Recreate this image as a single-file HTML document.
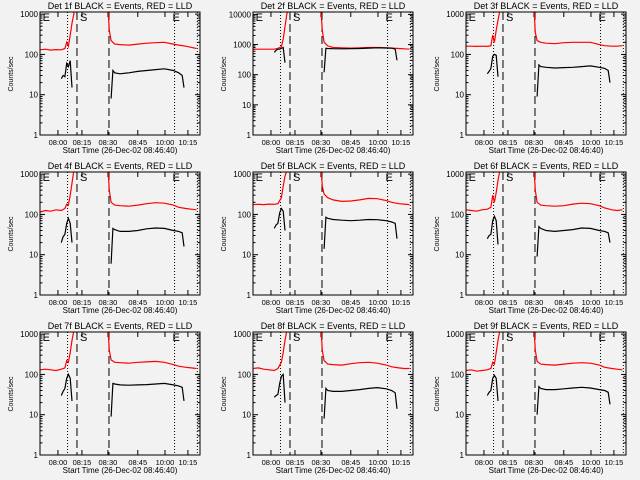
<!DOCTYPE html>
<html><head><meta charset="utf-8"><style>
html,body{margin:0;padding:0;background:#f2f2f2;}
svg{display:block;font-family:"Liberation Sans",sans-serif;}
</style></head><body>
<svg id="chart" width="640" height="480" viewBox="0 0 640 480" xmlns="http://www.w3.org/2000/svg">
<rect x="0" y="0" width="640" height="480" fill="#f2f2f2"/>
</svg>
<script>
const panelNames = ["1f","2f","3f","4f","5f","6f","7f","8f","9f"];
const yMaxes = [1130,12000,1130,1130,1130,1130,1130,1130,1130];
const xTickMinutes = [10.1,23.6,38.2,55,70.3,83.2];
const xTickLabels = ["08:00","08:15","08:30","08:45","10:00","10:15"];
const redTimes = [0,3,6,9,12,14,15,16,17,18,19,20,38,39,40,42,45,50,55,60,65,70,75,78,82,85,88];
const blackTimes = [12,13,14,15,16,17,18,40,41,42,45,50,55,60,65,70,75,78,80,81];
const redValues = [
 [130,135,128,132,130,140,200,160,300,600,1000,2000,2000,400,220,180,175,170,180,190,195,200,180,170,160,150,140],
 [700,700,700,700,700,750,800,850,1500,4000,10000,20000,20000,3000,1200,900,800,780,760,780,800,800,780,760,740,720,700],
 [160,160,158,160,158,165,300,200,400,700,1200,2000,2000,350,220,200,190,185,195,200,200,200,175,165,160,160,165],
 [115,125,120,130,125,140,180,170,300,600,1200,2000,2000,400,200,170,165,160,170,185,195,190,170,150,140,135,130],
 [175,178,175,180,178,185,220,260,500,900,1200,2000,2000,500,320,260,230,210,215,230,250,245,220,200,185,180,175],
 [130,125,120,130,135,150,300,200,350,700,1200,2000,2000,400,200,170,165,160,165,180,190,185,165,145,130,125,130],
 [130,135,130,125,135,145,220,200,350,700,1200,2000,2000,400,230,200,195,190,200,205,210,200,175,160,150,145,140],
 [140,145,135,130,125,140,170,200,350,700,1200,2000,2000,400,220,180,175,170,185,195,200,190,170,155,145,140,140],
 [125,130,120,125,130,140,200,180,350,700,1200,2000,2000,400,210,180,175,170,180,190,195,190,170,150,140,135,130]
];
const blackValues = [
 [25,30,28,60,50,70,15,8,40,35,33,35,38,40,42,44,40,35,30,15],
 [550,650,700,700,750,800,250,120,750,740,730,720,730,740,760,780,770,760,700,300],
 [33,38,45,90,100,95,28,9,55,50,48,46,47,48,50,52,48,45,40,20],
 [20,28,32,60,80,60,20,6,45,42,38,38,40,44,46,45,40,38,35,16],
 [45,55,60,110,140,120,40,14,85,80,75,72,70,72,75,74,70,65,60,25],
 [25,30,32,70,90,70,18,9,50,45,40,38,40,42,46,45,40,38,35,20],
 [30,38,45,80,100,80,22,9,60,58,55,54,55,56,58,60,55,52,48,22],
 [27,30,32,60,90,100,20,8,45,40,38,38,40,42,45,47,44,40,35,14],
 [30,36,40,80,95,80,22,10,50,45,42,42,44,46,48,46,42,40,36,18]
];
const svg = document.getElementById('chart');
const NS = "http://www.w3.org/2000/svg";
function mk(tag, attrs, parent){const e=document.createElementNS(NS,tag);for(const k in attrs)e.setAttribute(k,attrs[k]);parent.appendChild(e);return e;}
const X0=40,X1=200,YT=12,YB=135,TMAX=90;
function xs(t){return X0+(t/TMAX)*(X1-X0);}
panelNames.forEach((nm,i)=>{
  const col=i%3,row=Math.floor(i/3);
  const g=mk('g',{transform:`translate(${col*213},${row*160})`},svg);
  
  
  const ymax=yMaxes[i];const lm=Math.log10(ymax);
  const ys=v=>YB-(Math.log10(v)/lm)*(YB-YT);
  const cid='clip'+i;
  const cp=mk('clipPath',{id:cid},g);mk('rect',{x:X0,y:YT,width:X1-X0,height:YB-YT},cp);
  const t=mk('text',{x:120,y:9,'text-anchor':'middle','font-size':'9'},g);t.textContent='Det '+nm+' BLACK = Events, RED = LLD';
  
  
  const yt=mk('text',{x:0,y:0,transform:'translate(13,74) rotate(-90)','text-anchor':'middle','font-size':'7'},g);yt.textContent='Counts/sec';
  
  
  // y ticks
  for(let d=0;Math.pow(10,d)<=ymax;d++){
    const v=Math.pow(10,d),y=ys(v);
    mk('line',{x1:X0,x2:X0+5,y1:y,y2:y,stroke:'#000','stroke-width':1},g);
    mk('line',{x1:X1-5,x2:X1,y1:y,y2:y,stroke:'#000','stroke-width':1},g);
    const l=mk('text',{x:X0-2,y:y+3,'text-anchor':'end','font-size':'8'},g);l.textContent=String(v);
    
    
    for(let m=2;m<10;m++){const mv=v*m;if(mv>ymax)break;const my=ys(mv);
      mk('line',{x1:X0,x2:X0+2.5,y1:my,y2:my,stroke:'#000','stroke-width':1},g);
      mk('line',{x1:X1-2.5,x2:X1,y1:my,y2:my,stroke:'#000','stroke-width':1},g);}
  }
  xTickMinutes.forEach((tm,k)=>{const x=xs(tm);
    mk('line',{x1:x,x2:x,y1:YB,y2:YB-5,stroke:'#000'},g);
    mk('line',{x1:x,x2:x,y1:YT,y2:YT+5,stroke:'#000'},g);
    const l=mk('text',{x:x,y:YB+10,'text-anchor':'middle','font-size':'7.5'},g);l.textContent=xTickLabels[k];
    
    
  });
  const xt=mk('text',{x:120,y:YB+18,'text-anchor':'middle','font-size':'8'},g);xt.textContent='Start Time (26-Dec-02 08:46:40)';
  
  
  // vertical markers
  [15.5,75.7,91].forEach(tm=>{if(tm>TMAX)tm=88.5;const x=xs(tm);mk('line',{x1:x,x2:x,y1:YT,y2:YB,stroke:'#000','stroke-dasharray':'1,2'},g);});
  [20.8,38.8].forEach(tm=>{const x=xs(tm);mk('line',{x1:x,x2:x,y1:YT,y2:YB,stroke:'#000','stroke-dasharray':'8,4'},g);});
  [['E',1.5],['S',22.5],['E',74.5]].forEach(([s,tm])=>{const l=mk('text',{x:xs(tm),y:YT+9,'font-size':'11'},g);l.textContent=s;
    
    });
  // series
  function path(times,vals,col,name){let d='';let pen=false;
    times.forEach((tm,k)=>{const v=vals[k];if(v==null){pen=false;return;}
      if(k>0&&tm-times[k-1]>10)pen=false;
      d+=(pen?'L':'M')+xs(tm).toFixed(1)+','+ys(v).toFixed(1);pen=true;});
    const p=mk('path',{d:d,fill:'none',stroke:col,'stroke-width':1.2,'clip-path':`url(#${cid})`},g);
    
    }
  path(redTimes,redValues[i],'#ff0000','red-lld-line');
  path(blackTimes,blackValues[i],'#000','black-events-line');
  const fr=mk('rect',{x:X0,y:YT,width:X1-X0,height:YB-YT,fill:'none',stroke:'#000','stroke-width':1},g);
  
  
});
</script>
</body></html>
